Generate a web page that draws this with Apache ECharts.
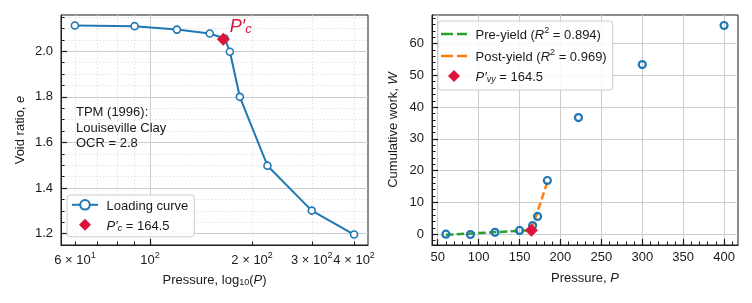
<!DOCTYPE html>
<html>
<head>
<meta charset="utf-8">
<script src="https://cdn.jsdelivr.net/npm/echarts@6/dist/echarts.min.js"></script>
<style>
    html, body { margin: 0; padding: 0; background: #fff; }
    #chart { width: 752px; height: 303px; }
</style>
</head>
<body>
<div id="chart"></div>
<script>
// ---- data ----
var pressure = [60, 90, 120, 150, 166, 172, 184, 222, 300, 400];
var voidRatio = [2.113, 2.110, 2.095, 2.078, 2.056, 1.998, 1.800, 1.498, 1.301, 1.196];
var cumWork = [0.0, -0.1, 0.6, 1.2, 2.7, 5.6, 16.9, 36.7, 53.4, 65.7];

var yieldP = 164.5;     // P'c == P'vy
var yieldE = 2.053;
var yieldW = 1.26;

var preFitP = [60, 164.5];
var preFitW = [-0.2, 1.26];
var postFitP = [164.5, 185];
var postFitW = [1.26, 17.2];
var preR2 = '0.894';
var postR2 = '0.969';

// ---- ticks ----
var logMajorTicks = [100];
var logMinorTicks = [60, 70, 80, 90, 200, 300, 400];
var logMinorLabels = [60, 200, 300, 400];
var eTicks = [1.2, 1.4, 1.6, 1.8, 2.0];
var pTicks = [50, 100, 150, 200, 250, 300, 350, 400];
var wTicks = [0, 10, 20, 30, 40, 50, 60];

var FONT = '"Liberation Sans", Arial, sans-serif';
var INK = '#1a1a1a';
var BLUE = '#1f77b4';
var GREEN = '#2ca02c';
var ORANGE = '#ff7f0e';
var RED = '#dc143c';
var DIAMOND_ICON = 'path://M0,-1L1,0L0,1L-1,0Z';
var DASH_ICON = 'path://M0,0h12v2.5h-12zM16,0h10v2.5h-10z';

/**
 * minor tick values between start and stop, majors left out
 */
function minorRange(start, stop, step, majors) {
    var out = [];
    for (var v = start; v <= stop + step / 2; v += step) {
        var r = Math.round(v * 1000) / 1000;
        if (majors.indexOf(r) < 0) out.push(r);
    }
    return out;
}
var eMinorTicks = minorRange(1.25, 2.15, 0.05, eTicks);
var pMinorTicks = minorRange(50, 410, 10, pTicks);
var wMinorTicks = minorRange(-2, 68, 2, wTicks);

function zip(xs, ys) {
    return xs.map(function (x, i) { return [x, ys[i]]; });
}

// rich text pieces shared by labels, names and legends
function richSet(size, color) {
    return {
        t: { fontSize: size, fontFamily: FONT, color: color, lineHeight: 16, verticalAlign: 'bottom' },
        i: { fontSize: size, fontFamily: FONT, color: color, lineHeight: 16, verticalAlign: 'bottom', fontStyle: 'italic' },
        sup: { fontSize: 9, fontFamily: FONT, color: color, lineHeight: 9, verticalAlign: 'top' },
        sub: { fontSize: 9, fontFamily: FONT, color: color, lineHeight: 9, verticalAlign: 'bottom' },
        isub: { fontSize: 9, fontFamily: FONT, color: color, lineHeight: 9, verticalAlign: 'bottom', fontStyle: 'italic' }
    };
}

function sciLabel(v) {
    var e = Math.floor(Math.log10(v) + 1e-9);
    var m = Math.round(v / Math.pow(10, e));
    return m === 1 ? '{t|10}{sup|' + e + '}' : '{t|' + m + ' \u00d7 10}{sup|' + e + '}';
}

/**
 * one axis; majors and minors are two axes stacked on the same grid
 */
function makeAxis(o) {
    return {
        type: o.type || 'value',
        gridIndex: o.grid,
        position: o.position,
        min: o.min,
        max: o.max,
        name: o.name || '',
        nameLocation: 'middle',
        nameGap: o.nameGap || 0,
        nameTextStyle: { fontSize: 13, fontFamily: FONT, color: INK, rich: richSet(13, INK) },
        axisLine: { show: !!o.line, onZero: false, lineStyle: { color: INK, width: 1 } },
        axisTick: {
            show: true, inside: true, length: o.tickLen, customValues: o.ticks,
            lineStyle: { color: INK, width: o.tickWidth || 1 }
        },
        axisLabel: o.labels ? {
            show: true, customValues: o.labels, formatter: o.formatter, margin: o.margin,
            fontSize: 13, fontFamily: FONT, color: INK, rich: richSet(13, INK)
        } : { show: false },
        splitLine: o.split ? { show: true, lineStyle: o.split } : { show: false },
        minorTick: { show: false },
        minorSplitLine: { show: false }
    };
}

var majorGrid = { color: '#cccccc', width: 1 };
var minorGrid = { color: '#dcdcdc', width: 0.8, type: [1.5, 2] };

function legendText(name) {
    var map = {
        'Loading curve': '{t| Loading curve}',
        'Pc': '{t| }{i|P\u2032}{isub|c}{t| = 164.5}',
        'Pre': '{t| Pre-yield (}{i|R}{sup|2}{t| = ' + preR2 + ')}',
        'Post': '{t| Post-yield (}{i|R}{sup|2}{t| = ' + postR2 + ')}',
        'Pvy': '{t| }{i|P\u2032}{isub|vy}{t| = 164.5}'
    };
    return map[name];
}

function makeLegend(names, left, top, padding) {
    return {
        orient: 'vertical',
        left: left,
        top: top,
        padding: padding,
        itemGap: 6,
        itemWidth: 26,
        itemHeight: 12,
        selectedMode: false,
        backgroundColor: 'rgba(255,255,255,0.85)',
        borderColor: '#cccccc',
        borderWidth: 1,
        borderRadius: 3,
        data: names,
        formatter: legendText,
        textStyle: { fontSize: 13, fontFamily: FONT, color: INK, rich: richSet(13, INK) }
    };
}

var chart = echarts.init(document.getElementById('chart'), null, { renderer: 'canvas' });

var option = {
    animation: false,
    textStyle: { fontFamily: FONT },
    grid: [
        { left: 61, right: 384, top: 15, bottom: 58, show: true, borderColor: INK, borderWidth: 1, backgroundColor: 'transparent' },
        { left: 432, right: 14, top: 15, bottom: 58, show: true, borderColor: INK, borderWidth: 1, backgroundColor: 'transparent' }
    ],
    xAxis: [
        makeAxis({ type: 'log', grid: 0, position: 'bottom', min: 54.6, max: 439.6, line: true,
            ticks: logMajorTicks, tickLen: 6, tickWidth: 1.2, labels: logMajorTicks, formatter: sciLabel, margin: 6,
            split: majorGrid, name: '{t|Pressure, log}{sub|10}{t|(}{i|P}{t|)}', nameGap: 26 }),
        makeAxis({ type: 'log', grid: 0, position: 'bottom', min: 54.6, max: 439.6,
            ticks: logMinorTicks, tickLen: 3.5, labels: logMinorLabels, formatter: sciLabel, margin: 6,
            split: minorGrid }),
        makeAxis({ grid: 1, position: 'bottom', min: 43, max: 417, line: true,
            ticks: pTicks, tickLen: 6, tickWidth: 1.2, labels: pTicks, margin: 6,
            split: majorGrid, name: '{t|Pressure, }{i|P}', nameGap: 24 }),
        makeAxis({ grid: 1, position: 'bottom', min: 43, max: 417,
            ticks: pMinorTicks, tickLen: 3.5 })
    ],
    yAxis: [
        makeAxis({ grid: 0, position: 'left', min: 1.15, max: 2.159, line: true,
            ticks: eTicks, tickLen: 6, tickWidth: 1.2, labels: eTicks, margin: 8,
            formatter: function (v) { return v.toFixed(1); },
            split: majorGrid, name: '{t|Void ratio, }{i|e}', nameGap: 34 }),
        makeAxis({ grid: 0, position: 'left', min: 1.15, max: 2.159,
            ticks: eMinorTicks, tickLen: 3.5, split: minorGrid }),
        makeAxis({ grid: 1, position: 'left', min: -3.4, max: 69, line: true,
            ticks: wTicks, tickLen: 6, tickWidth: 1.2, labels: wTicks, margin: 8,
            split: majorGrid, name: '{t|Cumulative work, }{i|W}', nameGap: 32 }),
        makeAxis({ grid: 1, position: 'left', min: -3.4, max: 69,
            ticks: wMinorTicks, tickLen: 3.5 })
    ],
    legend: [
        makeLegend(['Loading curve', { name: 'Pc', icon: DIAMOND_ICON }], 67, 195, [4, 6, 4, 4]),
        makeLegend([{ name: 'Pre', icon: DASH_ICON }, { name: 'Post', icon: DASH_ICON },
            { name: 'Pvy', icon: DIAMOND_ICON }], 438, 21, [5, 6, 6, 3])
    ],
    graphic: [{
        type: 'text',
        left: 76,
        top: 105,
        z: 10,
        style: {
            text: 'TPM (1996):\nLouiseville Clay\nOCR = 2.8',
            font: '13px ' + FONT,
            lineHeight: 15.5,
            fill: INK
        }
    }],
    series: [
        {
            name: 'Loading curve',
            type: 'line',
            xAxisIndex: 0,
            yAxisIndex: 0,
            data: zip(pressure, voidRatio),
            symbol: 'circle',
            symbolSize: 7,
            showAllSymbol: true,
            lineStyle: { color: BLUE, width: 2 },
            itemStyle: { color: '#ffffff', borderColor: BLUE, borderWidth: 1.6 },
            emphasis: { disabled: true },
            z: 3
        },
        {
            name: 'Pc',
            type: 'scatter',
            xAxisIndex: 0,
            yAxisIndex: 0,
            data: [[yieldP, yieldE]],
            symbol: 'diamond',
            symbolSize: 13,
            itemStyle: { color: RED, opacity: 1 },
            label: {
                show: true,
                position: 'right',
                distance: 0,
                offset: [0, -14],
                formatter: '{p|P\u2032}{c|c}',
                rich: {
                    p: { fontSize: 18, fontStyle: 'italic', fontFamily: FONT, color: RED, lineHeight: 22, verticalAlign: 'bottom' },
                    c: { fontSize: 13, fontStyle: 'italic', fontFamily: FONT, color: RED, lineHeight: 13, verticalAlign: 'bottom' }
                }
            },
            emphasis: { disabled: true },
            z: 5
        },
        {
            name: 'Pre',
            type: 'line',
            xAxisIndex: 2,
            yAxisIndex: 2,
            data: zip(preFitP, preFitW),
            symbol: 'none',
            lineStyle: { color: GREEN, width: 2.5, type: [7.5, 3.3] },
            itemStyle: { color: GREEN },
            emphasis: { disabled: true },
            z: 2
        },
        {
            name: 'Post',
            type: 'line',
            xAxisIndex: 2,
            yAxisIndex: 2,
            data: zip(postFitP, postFitW),
            symbol: 'none',
            lineStyle: { color: ORANGE, width: 2.5, type: [7.5, 3.3] },
            itemStyle: { color: ORANGE },
            emphasis: { disabled: true },
            z: 2
        },
        {
            name: 'Work',
            type: 'scatter',
            xAxisIndex: 2,
            yAxisIndex: 2,
            data: zip(pressure, cumWork),
            symbol: 'circle',
            symbolSize: 7,
            itemStyle: { color: 'rgba(255,255,255,0)', borderColor: BLUE, borderWidth: 2.2, opacity: 1 },
            emphasis: { disabled: true },
            z: 3
        },
        {
            name: 'Pvy',
            type: 'scatter',
            xAxisIndex: 2,
            yAxisIndex: 2,
            data: [[yieldP, yieldW]],
            symbol: 'diamond',
            symbolSize: 13,
            itemStyle: { color: RED, opacity: 1 },
            emphasis: { disabled: true },
            z: 5
        }
    ]
};

chart.setOption(option);
</script>
</body>
</html>
